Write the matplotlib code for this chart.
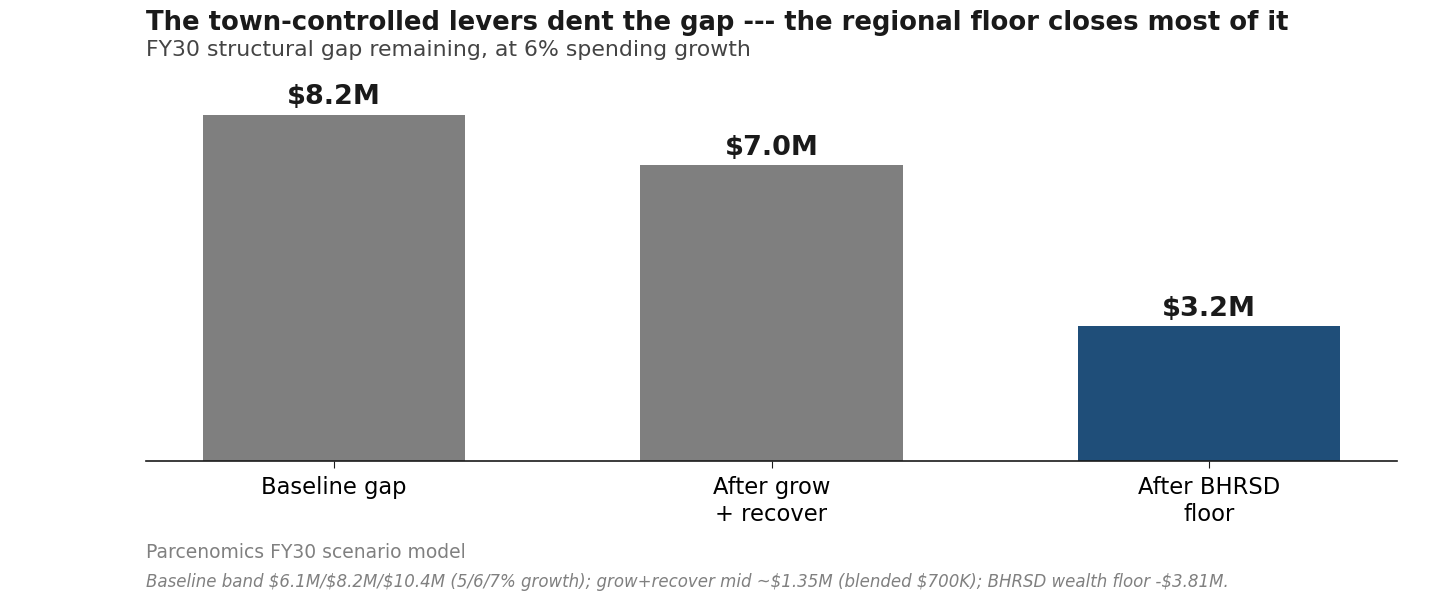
import matplotlib
matplotlib.use("Agg")
import matplotlib.pyplot as plt

# FY30 structural gap, $M
stages = ["Baseline gap", "After grow\n+ recover", "After BHRSD\nfloor"]
gap_m = [8.2, 7.0, 3.2]
value_labels = ["$8.2M", "$7.0M", "$3.2M"]

GRAY = "#7f7f7f"
BLUE = "#1f4e79"
bar_colors = [GRAY, GRAY, BLUE]

plt.rcParams["font.family"] = "DejaVu Sans"
plt.rcParams["text.parse_math"] = False

fig = plt.figure(figsize=(14.55, 6.07), dpi=100)
ax = fig.add_axes([146 / 1455, 1 - 461 / 607, (1397 - 146) / 1455, (461 - 80) / 607])

x = range(len(stages))
ax.bar(x, gap_m, width=0.6, color=bar_colors)
for i, (v, lab) in enumerate(zip(gap_m, value_labels)):
    ax.text(i, v + 0.1, lab, ha="center", va="bottom",
            fontsize=19.5, fontweight="bold", color="#1a1a1a")

ax.set_xlim(-0.43, 2.43)
ax.set_ylim(0, 9.02)
ax.set_xticks(list(x))
ax.set_xticklabels(stages, fontsize=16.3)
ax.set_yticks([])
for s in ["top", "right", "left"]:
    ax.spines[s].set_visible(False)
ax.spines["bottom"].set_color("#1a1a1a")
ax.spines["bottom"].set_linewidth(1.2)
ax.tick_params(axis="x", length=5, color="#1a1a1a", pad=6)

fig.text(146 / 1455, 1 - 23 / 607, "The town-controlled levers dent the gap --- the regional floor closes most of it",
         fontsize=18.6, fontweight="bold", color="#1a1a1a", va="center", ha="left")
fig.text(146 / 1455, 1 - 50 / 607, "FY30 structural gap remaining, at 6% spending growth",
         fontsize=15.8, color="#444444", va="center", ha="left")
fig.text(146 / 1455, 1 - 552 / 607, "Parcenomics FY30 scenario model",
         fontsize=13.5, color="#808080", va="center", ha="left")
fig.text(146 / 1455, 1 - 582 / 607,
         "Baseline band $6.1M/$8.2M/$10.4M (5/6/7% growth); grow+recover mid ~$1.35M (blended $700K); BHRSD wealth floor -$3.81M.",
         fontsize=12, color="#808080", style="italic", va="center", ha="left")

fig.savefig("out.png", dpi=100)
